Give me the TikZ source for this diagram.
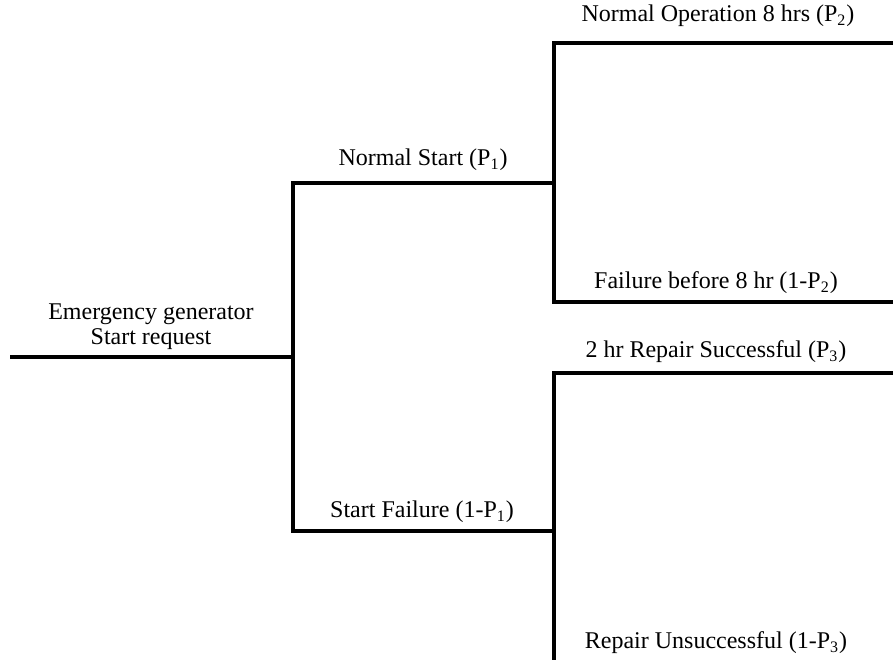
\documentclass[tikz,border=0pt]{standalone}
\usepackage{fontspec}
\setmainfont{Liberation Serif}
\usepackage{tikz}
\usetikzlibrary{positioning}
\tikzset{
  dal/.style={line width=2.4pt,line join=miter,black},
  etiket/.style={font=\fontsize{12}{12.6}\selectfont,align=center,inner sep=0pt}
}

\begin{document}
\begin{tikzpicture}[x=0.5pt,y=-0.5pt]
\useasboundingbox (0,0) rectangle (893,659);
\clip (0,0) rectangle (893,659);
% dugum noktalari
\coordinate (kok) at (10,357);
\coordinate (ayrim) at (293,357);
\coordinate (ustA) at (293,183);
\coordinate (ustB) at (554,183);
\coordinate (altA) at (293,531);
\coordinate (altB) at (554,531);
\coordinate (u1) at (893,43);
\coordinate (u1k) at (554,43);
\coordinate (u2k) at (554,302);
\coordinate (u2) at (893,302);
\coordinate (a1) at (893,373);
\coordinate (a1k) at (554,373);
\coordinate (a2k) at (554,680);
% dallar
\draw[dal] (kok)--(ayrim);
\draw[dal] (ustB)--(ustA)--(altA)--(altB);
\draw[dal] (u1)--(u1k)--(u2k)--(u2);
\draw[dal] (a1)--(a1k)--(a2k);
% etiketler
\node[etiket] (baslangic) at (151,327) {Emergency generator\\Start request};
\node[etiket] (normal) at (423,160) {Normal Start (P\textsubscript{1})};
\node[etiket] (calisma) at (718,16) {Normal Operation 8 hrs (P\textsubscript{2})};
\node[etiket] (ariza8) at (716,283) {Failure before 8 hr (1-P\textsubscript{2})};
\node[etiket] (tamir) at (716,352) {2 hr Repair Successful (P\textsubscript{3})};
\node[etiket] (basariz) at (422,512) {Start Failure (1-P\textsubscript{1})};
\node[etiket] (tamirsiz) at (716,643) {Repair Unsuccessful (1-P\textsubscript{3})};
\end{tikzpicture}
\end{document}
